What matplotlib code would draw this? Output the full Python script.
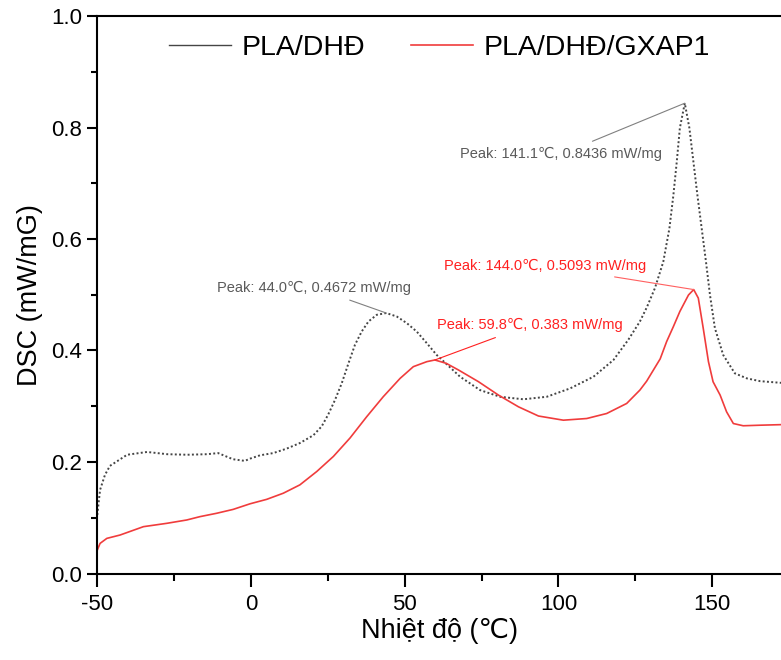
import matplotlib
matplotlib.use("Agg")
import matplotlib.pyplot as plt
from matplotlib.lines import Line2D
from matplotlib.ticker import MultipleLocator, FormatStrFormatter

plt.rcParams['font.family'] = ['Liberation Sans', 'DejaVu Sans']

# PLA/DHĐ (dotted)
t_pla = [-50.0, -49.1, -47.5, -45.9, -40.3, -33.8, -27.3, -20.8, -14.3, -10.7, -5.9, -2.0,
         -0.33, 2.93, 7.25, 11.6, 15.9, 20.3, 23.0, 25.1, 27.3, 29.5, 31.7, 33.8, 36.0, 38.2,
         40.9, 44.0, 47.4, 50.7, 53.9, 57.2, 60.4, 64.7, 68.0, 74.5, 81.0, 88.6, 96.2, 103.8,
         111.4, 117.9, 122.7, 126.5, 128.8, 131.4, 134.1, 136.1, 137.4, 138.5, 139.5, 141.1,
         142.6, 143.9, 145.2, 146.6, 148.0, 149.3, 150.9, 153.6, 157.4, 161.3, 165.6, 172.4]
v_pla = [0.105, 0.150, 0.177, 0.193, 0.213, 0.218, 0.214, 0.213, 0.214, 0.216, 0.205, 0.202,
         0.206, 0.212, 0.216, 0.224, 0.234, 0.248, 0.264, 0.285, 0.311, 0.341, 0.377, 0.410,
         0.434, 0.452, 0.464, 0.4672, 0.461, 0.449, 0.434, 0.413, 0.392, 0.370, 0.353, 0.329,
         0.317, 0.3125, 0.317, 0.332, 0.353, 0.383, 0.419, 0.452, 0.478, 0.512, 0.559, 0.619,
         0.679, 0.739, 0.799, 0.8436, 0.799, 0.739, 0.679, 0.619, 0.559, 0.4995, 0.440, 0.392,
         0.359, 0.350, 0.345, 0.342]

# PLA/DHĐ/GXAP1 (solid red)
t_gx = [-50.0, -49.1, -46.9, -42.6, -35.0, -27.4, -20.9, -16.6, -11.2, -5.8, -0.33, 5.1,
        10.5, 15.9, 21.4, 26.8, 32.2, 37.6, 43.0, 48.5, 52.8, 57.2, 59.8, 63.5, 67.5, 74.0,
        80.5, 87.0, 93.5, 101.6, 109.2, 115.7, 122.2, 126.5, 128.7, 130.9, 133.1, 135.2,
        137.4, 139.5, 142.3, 144.0, 145.5, 147.1, 148.8, 150.3, 152.6, 154.7, 156.9, 160.1,
        165.6, 172.4]
v_gx = [0.042, 0.054, 0.063, 0.069, 0.084, 0.090, 0.096, 0.102, 0.108, 0.115, 0.125, 0.133,
        0.144, 0.159, 0.183, 0.210, 0.243, 0.281, 0.317, 0.350, 0.371, 0.380, 0.383, 0.377,
        0.365, 0.344, 0.320, 0.299, 0.2825, 0.275, 0.278, 0.287, 0.305, 0.329, 0.345, 0.365,
        0.385, 0.416, 0.443, 0.470, 0.4995, 0.5093, 0.494, 0.440, 0.380, 0.344, 0.320, 0.290,
        0.269, 0.265, 0.266, 0.267]

labels = ["PLA/DHĐ", "PLA/DHĐ/GXAP1"]
peaks_pla = [(44.0, 0.4672), (141.1, 0.8436)]
peaks_gx = [(59.8, 0.383), (144.0, 0.5093)]

gray_c = "#454545"
red_c = "#f03c3c"

fig = plt.figure(figsize=(7.81, 6.60), dpi=100)
ax = fig.add_axes([97.3 / 781, 86.5 / 660, (781 - 97.3) / 781, 557.5 / 660])

ax.plot(t_pla, v_pla, color=gray_c, lw=1.4, linestyle=(0, (1, 1.2)))
ax.plot(t_gx, v_gx, color=red_c, lw=1.2)

ax.set_xlim(-50, 172.4)
ax.set_ylim(0, 1.0)
ax.xaxis.set_major_locator(MultipleLocator(50))
ax.xaxis.set_minor_locator(MultipleLocator(25))
ax.yaxis.set_major_locator(MultipleLocator(0.2))
ax.yaxis.set_minor_locator(MultipleLocator(0.1))
ax.yaxis.set_major_formatter(FormatStrFormatter('%.1f'))
ax.xaxis.set_major_formatter(FormatStrFormatter('%d'))

for s in ['left', 'bottom', 'top']:
    ax.spines[s].set_linewidth(1.5)
ax.spines['right'].set_visible(False)
ax.tick_params(axis='x', which='major', direction='out', length=9, width=1.5, labelsize=16, pad=6)
ax.tick_params(axis='x', which='minor', direction='out', length=5, width=1.5)
ax.tick_params(axis='y', which='major', direction='out', length=7, width=1.5, labelsize=16, pad=4)
ax.tick_params(axis='y', which='minor', direction='out', length=4.5, width=1.5)

ax.set_xlabel("Nhiệt độ (℃)", fontsize=19.5, labelpad=2)
ax.set_ylabel("DSC (mW/mG)", fontsize=19.5, labelpad=6)

# annotations
ann_gray = "#5a5a5a"
ann_red = "#ff2020"
fs_ann = 10.5
ax.annotate("Peak: 44.0℃, 0.4672 mW/mg", xy=peaks_pla[0], xytext=(20.5, 0.513),
            color=ann_gray, fontsize=fs_ann, ha='center', va='center',
            arrowprops=dict(arrowstyle='-', color='#808080', lw=0.8, shrinkA=6, shrinkB=0))
ax.annotate("Peak: 141.1℃, 0.8436 mW/mg", xy=peaks_pla[1], xytext=(100.8, 0.752),
            color=ann_gray, fontsize=fs_ann, ha='center', va='center',
            arrowprops=dict(arrowstyle='-', color='#808080', lw=0.8, shrinkA=6, shrinkB=0))
ax.annotate("Peak: 59.8℃, 0.383 mW/mg", xy=peaks_gx[0], xytext=(90.7, 0.446),
            color=ann_red, fontsize=fs_ann, ha='center', va='center',
            arrowprops=dict(arrowstyle='-', color=ann_red, lw=0.8, shrinkA=6, shrinkB=0))
ax.annotate("Peak: 144.0℃, 0.5093 mW/mg", xy=peaks_gx[1], xytext=(95.6, 0.552),
            color=ann_red, fontsize=fs_ann, ha='center', va='center',
            arrowprops=dict(arrowstyle='-', color='#ff6060', lw=0.8, shrinkA=6, shrinkB=0))

handles = [Line2D([], [], color=gray_c, lw=1.0), Line2D([], [], color=red_c, lw=1.2)]
ax.legend(handles, labels, loc='upper center', bbox_to_anchor=(0.5, 1.0), ncol=2,
          frameon=False, fontsize=20.5, handlelength=2.2, handletextpad=0.35, columnspacing=1.6,
          borderaxespad=0.25)

fig.savefig("out.png", dpi=100)
